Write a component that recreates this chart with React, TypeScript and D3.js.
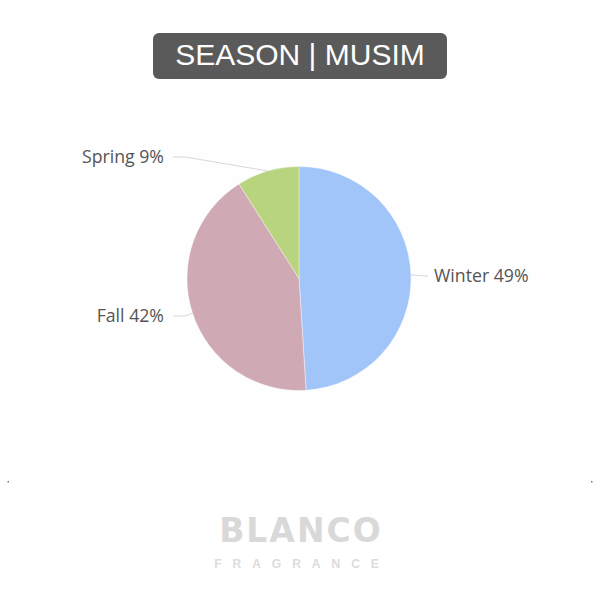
import React from "react";
import * as d3 from "d3";

const seasons = ["Winter", "Fall", "Spring"];
const shares = [49, 42, 9];
const colors = ["#a1c4f9", "#cfa9b4", "#b8d47e"];
const labelPositions = [
  { x: 434, y: 282, anchor: "start" },
  { x: 164, y: 322, anchor: "end" },
  { x: 164, y: 163, anchor: "end" },
];

export default function App() {
  const W = 600, H = 600;
  const cx = 299, cy = 278.5, r = 112;
  const pie = d3.pie<number>().sort(null).value((d) => d)(shares);
  const arc = d3.arc<d3.PieArcDatum<number>>().innerRadius(0).outerRadius(r);
  return (
    <svg width={W} height={H} style={{ position: "absolute", left: 0, top: 0 }}>
      <rect x={0} y={0} width={W} height={H} fill="#ffffff" />
      <rect x={7} y={109} width={586} height={373} fill="#fefefe" />
      <rect x={7.5} y={481} width={1.5} height={1.5} fill="#777" />
      <rect x={591} y={481} width={1.5} height={1.5} fill="#777" />
      <rect x={153} y={33} width={294} height={46} rx={6} fill="#5a5a5a" />
      <text x={300} y={65} textAnchor="middle" fill="#ffffff"
        style={{ fontFamily: "Liberation Sans, Arial, sans-serif", fontSize: 30 }}>
        SEASON | MUSIM
      </text>
      <g transform={`translate(${cx},${cy})`}>
        {pie.map((p, i) => (
          <path key={seasons[i]} d={arc(p) || ""} fill={colors[i]} stroke="#ffffff" strokeWidth={0.4} />
        ))}
      </g>
      {pie.map((p, i) => {
        const mid = (p.startAngle + p.endAngle) / 2;
        const ex = cx + Math.sin(mid) * r;
        const ey = cy - Math.cos(mid) * r;
        const lp = labelPositions[i];
        const ly = lp.y - 6;
        const lx = lp.anchor === "start" ? lp.x - 6 : lp.x + 9;
        const kx = lp.anchor === "start" ? lx : lx + 12;
        return (
          <g key={seasons[i]}>
            <polyline
              points={`${ex},${ey} ${kx},${ly} ${lx},${ly}`}
              fill="none" stroke="#d6d8de" strokeWidth={1}
            />
            <text x={lp.x} y={lp.y} textAnchor={lp.anchor as any} fill="#555"
              style={{ fontFamily: "Open Sans, sans-serif", fontSize: 17.7 }}>
              {`${seasons[i]} ${shares[i]}%`}
            </text>
          </g>
        );
      })}
      <text x={301} y={542} textAnchor="middle" fill="#d9d9d9" letterSpacing={2}
        style={{ fontFamily: "DejaVu Sans, sans-serif", fontSize: 33, fontWeight: 700 }}>
        BLANCO
      </text>
      <text x={302} y={568} textAnchor="middle" fill="#dcdcdc" letterSpacing={11}
        style={{ fontFamily: "Liberation Sans, Arial, sans-serif", fontSize: 12, fontWeight: 700 }}>
        FRAGRANCE
      </text>
    </svg>
  );
}
